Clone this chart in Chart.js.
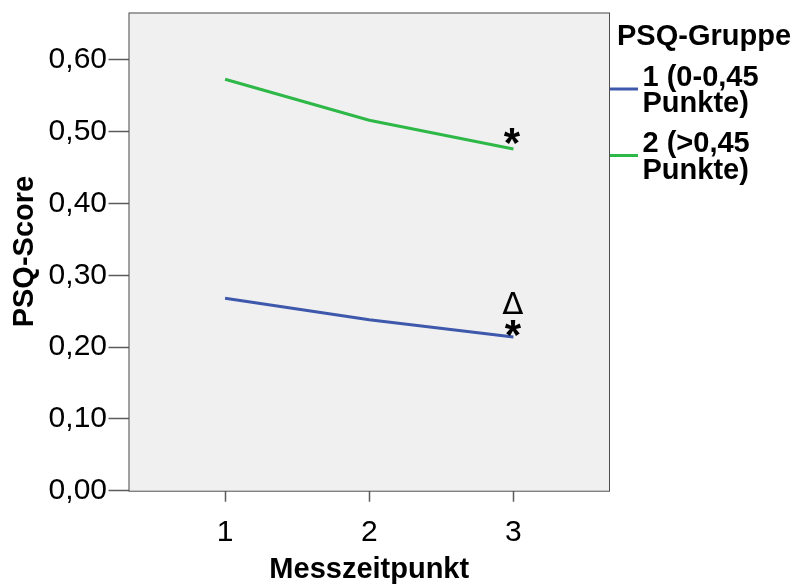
<!DOCTYPE html>
<html>
<head>
<meta charset="utf-8">
<script src="https://cdn.jsdelivr.net/npm/chart.js@4/dist/chart.umd.min.js"></script>
<style>
  html, body { margin: 0; padding: 0; background: #fff; }
  #wrap { width: 802px; height: 584px; }
</style>
</head>
<body>
<div id="wrap"><canvas id="psqChart" width="802" height="584"></canvas></div>
<script>
// Messzeitpunkte und mittlere PSQ-Scores je Gruppe
const zeitpunkte = [1, 2, 3];
const gruppe1 = [0.268, 0.238, 0.214];
const gruppe2 = [0.573, 0.516, 0.476];
const yTicks = [0, 0.1, 0.2, 0.3, 0.4, 0.5, 0.6];
const gruppenNamen = [["1 (0-0,45", "Punkte)"], ["2 (>0,45", "Punkte)"]];
const gruppenFarben = ["#3e58ac", "#2eb848"];
// Signifikanzzeichen am letzten Messzeitpunkt
const markierungen1 = ["Δ", "*"];
const markierungen2 = ["*"];

const FONT = "'Liberation Sans', Arial, sans-serif";
const PLOT_BG = "#f0f0f0";
const FRAME = "#4d4d4d";

const toPoints = vals => vals.map((v, i) => ({ x: zeitpunkte[i], y: v }));

// Hintergrund und Rahmen der Plotfläche
const plotFrame = {
  id: "plotFrame",
  beforeDraw(chart) {
    const { ctx, chartArea: a } = chart;
    ctx.save();
    ctx.fillStyle = PLOT_BG;
    ctx.fillRect(a.left, a.top, a.right - a.left, a.bottom - a.top);
    ctx.restore();
  },
  beforeDatasetsDraw(chart) {
    const { ctx, chartArea: a } = chart;
    ctx.save();
    ctx.strokeStyle = FRAME;
    ctx.lineWidth = 1;
    ctx.strokeRect(a.left + 0.5, a.top + 0.5, a.right - a.left - 1, a.bottom - a.top);
    ctx.restore();
  }
};

// Zeichen (*, Δ) über dem letzten Punkt einer Linie
const marks = {
  id: "marks",
  afterDatasetsDraw(chart) {
    const { ctx } = chart;
    const draw = (dsIndex, items) => {
      const pts = chart.getDatasetMeta(dsIndex).data;
      const p = pts[pts.length - 1];
      items.forEach(m => {
        ctx.save();
        ctx.font = m.font;
        ctx.fillStyle = "#000";
        ctx.textAlign = "center";
        ctx.textBaseline = "alphabetic";
        const asc = ctx.measureText(m.text).actualBoundingBoxAscent;
        ctx.fillText(m.text, p.x + m.dx, p.y + m.dy + asc);
        ctx.restore();
      });
    };
    draw(0, [
      { text: markierungen1[0], font: "31px 'DejaVu Sans', sans-serif", dx: -0.5, dy: -45 },
      { text: markierungen1[1], font: `bold 42px ${FONT}`, dx: -0.5, dy: -17.5 }
    ]);
    draw(1, [
      { text: markierungen2[0], font: `bold 42px ${FONT}`, dx: -1.5, dy: -21 }
    ]);
  }
};

// Legende rechts neben der Plotfläche
const sideLegend = {
  id: "sideLegend",
  afterDraw(chart) {
    const { ctx, chartArea: a } = chart;
    ctx.save();
    ctx.fillStyle = "#000";
    ctx.font = `bold 29px ${FONT}`;
    ctx.textAlign = "left";
    ctx.textBaseline = "alphabetic";
    ctx.fillText("PSQ-Gruppe", a.right + 7, 45);
    chart.data.datasets.forEach((ds, i) => {
      const base = 85.5 + i * 66.5;
      ctx.strokeStyle = ds.borderColor;
      ctx.lineWidth = 3;
      ctx.beginPath();
      ctx.moveTo(a.right, base + 3.5);
      ctx.lineTo(a.right + 28, base + 3.5);
      ctx.stroke();
      gruppenNamen[i].forEach((line, j) => {
        ctx.fillText(line, a.right + 32.5, base + j * 26.6);
      });
    });
    ctx.restore();
  }
};

new Chart(document.getElementById("psqChart").getContext("2d"), {
  type: "line",
  data: {
    datasets: [
      { label: gruppenNamen[0].join(" "), data: toPoints(gruppe1), borderColor: gruppenFarben[0] },
      { label: gruppenNamen[1].join(" "), data: toPoints(gruppe2), borderColor: gruppenFarben[1] }
    ]
  },
  options: {
    responsive: false,
    animation: false,
    layout: { padding: { top: 12.5, right: 192, left: 0, bottom: 0 } },
    elements: {
      line: { borderWidth: 3, tension: 0, fill: false },
      point: { radius: 0, hoverRadius: 0 }
    },
    plugins: { legend: { display: false }, tooltip: { enabled: false } },
    scales: {
      x: {
        type: "linear",
        min: 0.33,
        max: 3.67,
        afterBuildTicks: s => { s.ticks = zeitpunkte.map(v => ({ value: v })); },
        afterFit: s => { s.height = 93.3; s.paddingLeft = 0; s.paddingRight = 0; },
        border: { display: false },
        grid: { drawOnChartArea: false, drawTicks: true, tickLength: 11, color: "#5a5a5a", tickWidth: 1.5 },
        ticks: { padding: 13, color: "#000", font: { family: FONT, size: 30 }, callback: v => String(v) },
        title: {
          display: true, text: "Messzeitpunkt", color: "#000",
          font: { family: FONT, size: 29, weight: "bold", lineHeight: 1 },
          padding: { top: 0, bottom: 0 }
        }
      },
      y: {
        type: "linear",
        min: 0,
        max: 0.666,
        afterBuildTicks: s => { s.ticks = yTicks.map(v => ({ value: v })); },
        afterFit: s => { s.width = 128.5; s.paddingTop = 0; s.paddingBottom = 0; },
        border: { display: false },
        grid: { drawOnChartArea: false, drawTicks: true, tickLength: 20, color: "#5a5a5a", tickWidth: 1.5 },
        ticks: { padding: 1.5, color: "#000", font: { family: FONT, size: 30 }, callback: v => v.toFixed(2).replace(".", ",") },
        title: {
          display: true, text: "PSQ-Score", color: "#000",
          font: { family: FONT, size: 29, weight: "bold", lineHeight: 1 },
          padding: { top: 10, bottom: 0 }
        }
      }
    }
  },
  plugins: [plotFrame, marks, sideLegend]
});
</script>
</body>
</html>
